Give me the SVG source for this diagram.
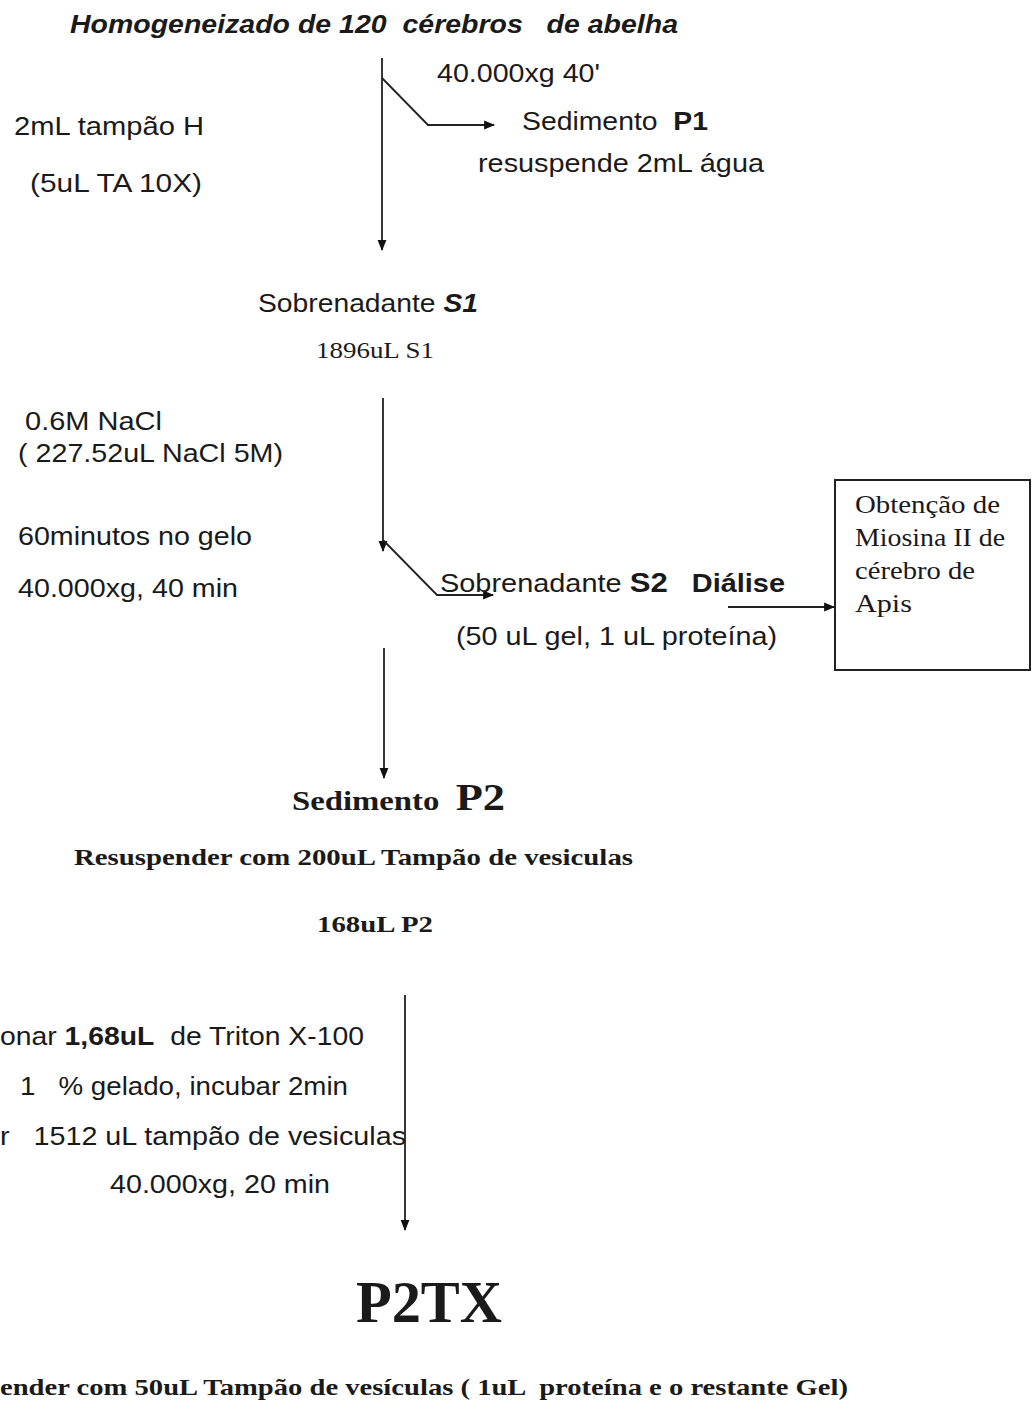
<svg xmlns="http://www.w3.org/2000/svg" width="1034" height="1408" viewBox="0 0 1034 1408" xml:space="preserve">
<defs>
<marker id="ah" viewBox="0 0 10 10" refX="9" refY="5" markerWidth="12" markerHeight="11" markerUnits="userSpaceOnUse" orient="auto"><path d="M0,1 L10,5 L0,9 z" fill="#111"/></marker>
<style>
.s{font-family:"Liberation Sans",Arial,sans-serif;font-size:26px;fill:#1a1a1a;white-space:pre}
.t{font-family:"Liberation Serif","Times New Roman",serif;fill:#1a1a1a;white-space:pre}
.b{font-weight:bold}
.ln{stroke:#222;stroke-width:1.8;fill:none}
</style>
</defs>
<rect width="1034" height="1408" fill="#fff"/>
<g id="connectors">
<line class="ln" x1="382" y1="58" x2="382" y2="250" marker-end="url(#ah)"/>
<polyline class="ln" points="382,78 428,125 494,125" marker-end="url(#ah)"/>
<line class="ln" x1="383" y1="398" x2="383" y2="551" marker-end="url(#ah)"/>
<polyline class="ln" points="383,540 437,595 493,595" marker-end="url(#ah)"/>
<line class="ln" x1="728" y1="607" x2="834" y2="607" marker-end="url(#ah)"/>
<line class="ln" x1="384" y1="648" x2="384" y2="778" marker-end="url(#ah)"/>
<line class="ln" x1="405" y1="995" x2="405" y2="1230" marker-end="url(#ah)"/>
</g>
<g id="n-homog"><text class="s b" x="70" y="33" font-style="italic" font-size="25" textLength="608" lengthAdjust="spacingAndGlyphs">Homogeneizado de 120  cérebros   de abelha</text></g>
<g id="n-cond1"><text class="s" x="437" y="82" textLength="163" lengthAdjust="spacingAndGlyphs">40.000xg 40'</text></g>
<g id="n-p1"><text class="s" x="522" y="130" textLength="186" lengthAdjust="spacingAndGlyphs">Sedimento  <tspan class="b">P1</tspan></text>
<text class="s" x="478" y="172" textLength="286" lengthAdjust="spacingAndGlyphs">resuspende 2mL água</text></g>
<g id="n-tampao"><text class="s" x="14" y="135" textLength="190" lengthAdjust="spacingAndGlyphs">2mL tampão H</text>
<text class="s" x="30" y="192" textLength="172" lengthAdjust="spacingAndGlyphs">(5uL TA 10X)</text></g>
<g id="n-s1"><text class="s" x="258" y="312" textLength="220" lengthAdjust="spacingAndGlyphs">Sobrenadante <tspan class="b" font-style="italic">S1</tspan></text>
<text class="t" x="316" y="358" font-size="24" textLength="118" lengthAdjust="spacingAndGlyphs">1896uL S1</text></g>
<g id="n-nacl"><text class="s" x="25" y="430" textLength="137" lengthAdjust="spacingAndGlyphs">0.6M NaCl</text>
<text class="s" x="18" y="462" textLength="265" lengthAdjust="spacingAndGlyphs">( 227.52uL NaCl 5M)</text>
<text class="s" x="18" y="545" textLength="234" lengthAdjust="spacingAndGlyphs">60minutos no gelo</text>
<text class="s" x="18" y="597" textLength="220" lengthAdjust="spacingAndGlyphs">40.000xg, 40 min</text></g>
<g id="n-s2"><text class="s" x="440" y="592" textLength="345" lengthAdjust="spacingAndGlyphs">Sobrenadante <tspan class="b" font-size="28">S2</tspan>   <tspan class="b">Diálise</tspan></text>
<text class="s" x="456" y="645" textLength="321" lengthAdjust="spacingAndGlyphs">(50 uL gel, 1 uL proteína)</text></g>
<g id="n-miosina"><rect x="835" y="480" width="195" height="190" fill="none" stroke="#222" stroke-width="2"/>
<text class="t" x="855" y="513" font-size="25" textLength="145" lengthAdjust="spacingAndGlyphs">Obtenção de</text>
<text class="t" x="855" y="546" font-size="25" textLength="150" lengthAdjust="spacingAndGlyphs">Miosina II de</text>
<text class="t" x="855" y="579" font-size="25" textLength="120" lengthAdjust="spacingAndGlyphs">cérebro de</text>
<text class="t" x="855" y="612" font-size="25" textLength="57" lengthAdjust="spacingAndGlyphs">Apis</text></g>
<g id="n-p2"><text class="t b" x="292" y="810" font-size="28" textLength="213" lengthAdjust="spacingAndGlyphs">Sedimento  <tspan font-size="38">P2</tspan></text>
<text class="t b" x="74" y="865" font-size="23" textLength="559" lengthAdjust="spacingAndGlyphs">Resuspender com 200uL Tampão de vesiculas</text>
<text class="t b" x="317" y="932" font-size="23" textLength="116" lengthAdjust="spacingAndGlyphs">168uL P2</text></g>
<g id="n-triton"><text class="s" x="0" y="1045" textLength="364" lengthAdjust="spacingAndGlyphs">onar <tspan class="b">1,68uL</tspan>  de Triton X-100</text>
<text class="s" x="20" y="1095" textLength="328" lengthAdjust="spacingAndGlyphs">1   % gelado, incubar 2min</text>
<text class="s" x="0" y="1145" textLength="406" lengthAdjust="spacingAndGlyphs">r   1512 uL tampão de vesiculas</text>
<text class="s" x="110" y="1193" textLength="220" lengthAdjust="spacingAndGlyphs">40.000xg, 20 min</text></g>
<g id="n-p2tx"><text class="t b" x="356" y="1322" font-size="60" textLength="146" lengthAdjust="spacingAndGlyphs">P2TX</text>
<text class="t b" x="0" y="1395" font-size="24" textLength="848" lengthAdjust="spacingAndGlyphs">ender com 50uL Tampão de vesículas ( 1uL  proteína e o restante Gel)</text></g>
</svg>
